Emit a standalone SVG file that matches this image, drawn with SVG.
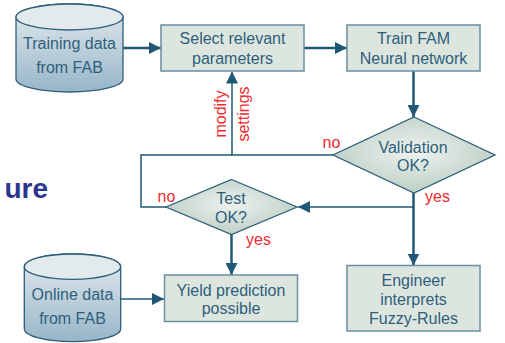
<svg xmlns="http://www.w3.org/2000/svg" width="505" height="343" viewBox="0 0 505 343">
<defs>
<linearGradient id="cyl" x1="0" y1="0" x2="0" y2="1">
<stop offset="0" stop-color="#e3eaee"/>
<stop offset="1" stop-color="#97b6c9"/>
</linearGradient>
<radialGradient id="dia" cx="0.5" cy="0.45" r="0.6">
<stop offset="0" stop-color="#eef2ef"/>
<stop offset="1" stop-color="#b7ccc1"/>
</radialGradient>
<marker id="ah" viewBox="0 0 12 12" refX="12" refY="6" markerWidth="12" markerHeight="12" markerUnits="userSpaceOnUse" orient="auto">
<path d="M0,0 L12,6 L0,12 Z" fill="#215876"/>
</marker>
</defs>
<style>
.box{fill:#dde5df;stroke:#6a8fa0;stroke-width:1.5}
.cyl{fill:url(#cyl);stroke:#2e5e7a;stroke-width:1.3}
.dia{fill:url(#dia);stroke:#2e5e7a;stroke-width:1.3}
.t{font-family:"Liberation Sans",Arial,sans-serif;font-size:16px;fill:#2f5f7c;text-anchor:middle}
.r{font-family:"Liberation Sans",Arial,sans-serif;font-size:16px;fill:#ee2a30}
.c{fill:none;stroke:#215876;stroke-width:1.5}
.ct{fill:none;stroke:#215876;stroke-width:2.5}
</style>
<text x="48" y="198" font-family="Liberation Sans,Arial,sans-serif" font-weight="bold" font-size="28" fill="#2b358f" text-anchor="end">ure</text>
<g id="connectors">
<line class="ct" x1="123" y1="48" x2="161" y2="48" marker-end="url(#ah)"/>
<line class="ct" x1="304" y1="48" x2="347" y2="48" marker-end="url(#ah)"/>
<line class="ct" x1="413.5" y1="71" x2="413.5" y2="117" marker-end="url(#ah)"/>
<polyline class="c" points="333,155 232,155 232,71.5" marker-end="url(#ah)"/>
<polyline class="c" points="166,207 141,207 141,155 232,155"/>
<line class="ct" x1="413.5" y1="193" x2="413.5" y2="265.5" marker-end="url(#ah)"/>
<line class="c" x1="413.5" y1="207" x2="298" y2="207" marker-end="url(#ah)"/>
<line class="ct" x1="231.5" y1="234" x2="231.5" y2="275" marker-end="url(#ah)"/>
<line class="c" x1="121" y1="299" x2="164" y2="299" marker-end="url(#ah)"/>
<text class="r" transform="translate(226,114) rotate(-90)" text-anchor="middle">modify</text>
<text class="r" transform="translate(249,114) rotate(-90)" text-anchor="middle">settings</text>
<text class="r" x="322.5" y="148">no</text>
<text class="r" x="157.5" y="201.5">no</text>
<text class="r" x="425" y="201.5">yes</text>
<text class="r" x="246" y="244.5">yes</text>
</g>
<g id="training">
<path class="cyl" d="M16,17 V79 A53.5,13 0 0 0 123,79 V17 A53.5,13 0 0 0 16,17 Z"/>
<ellipse cx="69.5" cy="17" rx="53.5" ry="13" fill="#e3eaee" stroke="#2e5e7a" stroke-width="1.3"/>
<text class="t" x="69.5" y="49">Training data</text>
<text class="t" x="69.5" y="72.5">from FAB</text>
</g>
<g id="select">
<rect class="box" x="161" y="25" width="143" height="46"/>
<text class="t" x="232.5" y="44">Select relevant</text>
<text class="t" x="232.5" y="64">parameters</text>
</g>
<g id="train">
<rect class="box" x="347" y="25" width="133" height="46"/>
<text class="t" x="413.5" y="44">Train FAM</text>
<text class="t" x="413.5" y="64">Neural network</text>
</g>
<g id="validation">
<polygon class="dia" points="414,117 495,155 414,193 333,155"/>
<text class="t" x="413" y="152.5">Validation</text>
<text class="t" x="413" y="170.5">OK?</text>
</g>
<g id="test">
<polygon class="dia" points="231.5,179.5 297,207 231.5,234.5 166,207"/>
<text class="t" x="231" y="204">Test</text>
<text class="t" x="231" y="223">OK?</text>
</g>
<g id="online">
<path class="cyl" d="M24.3,266.7 V329 A48.2,12.7 0 0 0 120.7,329 V266.7 A48.2,12.7 0 0 0 24.3,266.7 Z"/>
<ellipse cx="72.5" cy="266.7" rx="48.2" ry="12.7" fill="#e3eaee" stroke="#2e5e7a" stroke-width="1.3"/>
<text class="t" x="72.5" y="299.5">Online data</text>
<text class="t" x="72.5" y="323.5">from FAB</text>
</g>
<g id="yield">
<rect class="box" x="164.5" y="275" width="133" height="46.5"/>
<text class="t" x="231" y="295.5">Yield prediction</text>
<text class="t" x="231" y="314">possible</text>
</g>
<g id="engineer">
<rect class="box" x="347" y="265.5" width="133" height="65.5"/>
<text class="t" x="413.5" y="285.5">Engineer</text>
<text class="t" x="413.5" y="304.5">interprets</text>
<text class="t" x="413.5" y="323.5">Fuzzy-Rules</text>
</g>
</svg>
